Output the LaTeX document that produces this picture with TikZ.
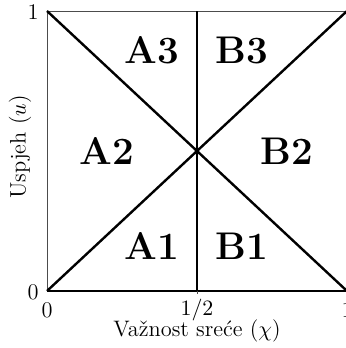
\documentclass[tikz,border=0pt]{standalone}
\usepackage{fontspec}
\usepackage{amsmath}
\usetikzlibrary{positioning,calc}
\tikzset{
  frame/.style={draw=black!70, line width=0.4pt},
  base/.style={draw=black, line width=0.7pt},
  split/.style={draw=black, line width=1.2pt},
  region/.style={font=\fontsize{19.3}{23}\selectfont\bfseries, inner sep=0pt},
  ticklab/.style={font=\fontsize{11.2}{13}\selectfont, inner sep=0pt},
  axlab/.style={font=\fontsize{11.2}{13}\selectfont, inner sep=0pt},
}

\begin{document}
\begin{tikzpicture}[x=150pt, y=140pt]
\useasboundingbox (-23.5pt,-28.5pt) rectangle (149.5pt,145.5pt);
\coordinate (O) at (0,0);
\coordinate (X) at (1,0);
\coordinate (T) at (0,1);
\coordinate (TR) at (1,1);
\coordinate (midB) at (0.5,0);
\coordinate (midT) at (0.5,1);
\coordinate (tickB) at ($(midB)+(0,-1.5pt)$);
% frame of the unit square
\draw[frame] (O) -- (T) -- (TR) -- (X);
\draw[base] (O) -- (X);
\draw[frame] (midB) -- (tickB);
% dividing lines
\draw[split] (O) -- (TR);
\draw[split] (T) -- (X);
\draw[split] (midB) -- (midT);
% regions
\node[region] (a1) at (0.35,0.16) {A1};
\node[region] (b1) at (0.65,0.16) {B1};
\node[region] (a2) at (0.2,0.5) {A2};
\node[region] (b2) at (0.8,0.5) {B2};
\node[region] (a3) at (0.35,0.86) {A3};
\node[region] (b3) at (0.65,0.86) {B3};
% ticks and axis labels
\node[ticklab] (y0) at (-7pt,-0.5pt) {0};
\node[ticklab] (y1) at (-7pt,139.5pt) {1};
\node[ticklab] (x0) at (0pt,-9.5pt) {0};
\node[ticklab] (xh) at (75pt,-9.5pt) {$1/2$};
\node[ticklab] (x1) at (150pt,-9.5pt) {1};
\node[axlab] (xlab) at (75pt,-20pt) {Važnost sreće ($\chi$)};
\node[axlab, rotate=90] (ylab) at (-13.5pt,72pt) {Uspjeh ($u$)};
\end{tikzpicture}
\end{document}
